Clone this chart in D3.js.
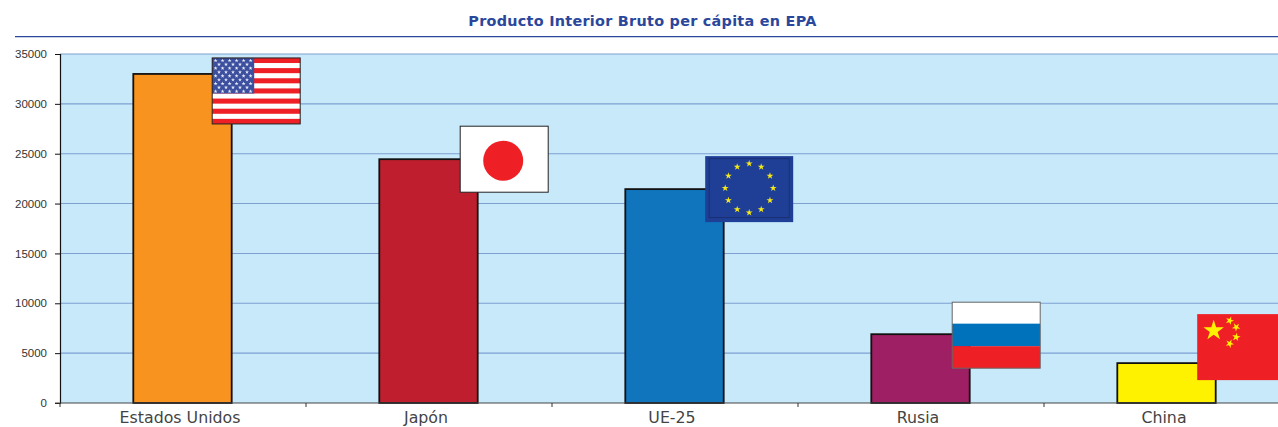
<!DOCTYPE html>
<html lang="es">
<head>
<meta charset="utf-8">
<title>Producto Interior Bruto per cápita en EPA</title>
<script src="https://cdn.jsdelivr.net/npm/d3@7"></script>
<style>
  html, body { margin: 0; padding: 0; background: #fff; overflow: hidden; }
  svg { display: block; }
</style>
</head>
<body>
<svg id="chart"></svg>
<script>
"use strict";

// Data
const categories = ["Estados Unidos", "Japón", "UE-25", "Rusia", "China"];
const gdpPerCapita = [33000, 24450, 21450, 6900, 4000];
const yTicks = [0, 5000, 10000, 15000, 20000, 25000, 30000, 35000];

const svgWidth = 1278, svgHeight = 427;
const plot = { left: 60, top: 54, right: 1290, bottom: 403 };

const barColors = ["#f7931e", "#be1e2d", "#1075bd", "#9e1f63", "#fff200"];
const flagW = 88, flagH = 66;
// how far each flag sticks up above the top of its bar, and its nudge to the right
const flagRise = [16, 33, 33, 32, 49];
const flagNudge = [0, 2, 1, 2, 1];
const flagRed = "#ef2025";

const svg = d3.select("#chart")
  .attr("width", svgWidth)
  .attr("height", svgHeight);

const xScale = d3.scaleBand()
  .domain(categories)
  .range([plot.left, plot.right])
  .paddingInner(0.6)
  .paddingOuter(0.3);

const yScale = d3.scaleLinear()
  .domain([0, 35000])
  .range([plot.bottom, plot.top]);

// Title and the rule below it
svg.append("text")
  .attr("x", 642.5)
  .attr("y", 25.5)
  .attr("text-anchor", "middle")
  .attr("font-family", "'DejaVu Sans', sans-serif")
  .attr("font-weight", "bold")
  .attr("font-size", 14.4)
  .attr("letter-spacing", 0.27)
  .attr("fill", "#2a479b")
  .text("Producto Interior Bruto per cápita en EPA");

svg.append("line")
  .attr("x1", 15).attr("x2", svgWidth)
  .attr("y1", 36.7).attr("y2", 36.7)
  .attr("stroke", "#2a479b")
  .attr("stroke-width", 1.2);

// Plot background
svg.append("rect")
  .attr("x", plot.left)
  .attr("y", plot.top)
  .attr("width", plot.right - plot.left)
  .attr("height", plot.bottom - plot.top)
  .attr("fill", "#c7e9fa");

// Gridlines
svg.append("g")
  .selectAll("line")
  .data(yTicks.filter(d => d > 0))
  .enter()
  .append("line")
  .attr("x1", plot.left)
  .attr("x2", plot.right)
  .attr("y1", d => yScale(d))
  .attr("y2", d => yScale(d))
  .attr("stroke", "#7f9fd1")
  .attr("stroke-width", 1.1);

// Bars
svg.append("g")
  .attr("transform", "translate(-0.5,0)")
  .selectAll("rect")
  .data(categories)
  .enter()
  .append("rect")
  .attr("x", d => xScale(d))
  .attr("y", (d, i) => yScale(gdpPerCapita[i]))
  .attr("width", xScale.bandwidth())
  .attr("height", (d, i) => plot.bottom - yScale(gdpPerCapita[i]))
  .attr("fill", (d, i) => barColors[i])
  .attr("stroke", "#111")
  .attr("stroke-width", 1.8);

// Axes
const yAxis = d3.axisLeft(yScale)
  .tickValues(yTicks)
  .tickFormat(d => String(d))
  .tickSize(5)
  .tickPadding(8);

const yAxisG = svg.append("g")
  .attr("transform", `translate(${plot.left},0)`)
  .call(yAxis);
yAxisG.select(".domain").attr("stroke", "#111").attr("stroke-width", 1.2);
yAxisG.selectAll(".tick line").attr("stroke", "#111");
yAxisG.selectAll("text")
  .attr("font-family", "'Liberation Sans', Arial, sans-serif")
  .attr("font-size", 11.5)
  .attr("fill", "#333");

const xAxis = d3.axisBottom(xScale)
  .tickSize(0)
  .tickPadding(9);

const xAxisG = svg.append("g")
  .attr("transform", `translate(-3,${plot.bottom})`)
  .call(xAxis);
xAxisG.select(".domain").remove();
xAxisG.selectAll("text")
  .attr("font-family", "'DejaVu Sans', sans-serif")
  .attr("font-size", 15.8)
  .attr("fill", "#444");

// baseline from the y tick on, with tick marks on the category edges
svg.append("line")
  .attr("x1", plot.left - 5).attr("x2", plot.right)
  .attr("y1", plot.bottom).attr("y2", plot.bottom)
  .attr("stroke", "#444")
  .attr("stroke-width", 1.1);

svg.append("g")
  .selectAll("line")
  .data(categories)
  .enter()
  .append("line")
  .attr("x1", d => xScale(d) - xScale.step() * 0.3)
  .attr("x2", d => xScale(d) - xScale.step() * 0.3)
  .attr("y1", plot.bottom)
  .attr("y2", plot.bottom + 4)
  .attr("stroke", "#333");

// Flags, hung off the top right corner of each bar
function star(g, x, y, size, fill, angle) {
  g.append("path")
    .attr("d", d3.symbol(d3.symbolStar, size)())
    .attr("transform", `translate(${x},${y}) rotate(${angle || 0})`)
    .attr("fill", fill);
}

function frame(g, color) {
  g.append("rect")
    .attr("width", flagW)
    .attr("height", flagH)
    .attr("fill", "none")
    .attr("stroke", color)
    .attr("stroke-width", 1);
}

function flagUS(g) {
  g.append("rect").attr("width", flagW).attr("height", flagH).attr("fill", "#fff");
  d3.range(0, 13, 2).forEach(i => {
    g.append("rect")
      .attr("y", i * flagH / 13)
      .attr("width", flagW)
      .attr("height", flagH / 13)
      .attr("fill", flagRed);
  });
  const cantonW = 42, cantonH = flagH * 7 / 13;
  g.append("rect").attr("width", cantonW).attr("height", cantonH).attr("fill", "#3c4f9f");
  d3.range(9).forEach(row => {
    const odd = row % 2 === 1;
    d3.range(odd ? 5 : 6).forEach(col => {
      star(g, (odd ? 6.8 : 3.4) + col * 7, 2.6 + row * 3.85, 5, "#e8edf8");
    });
  });
  frame(g, "#222");
}

function flagJapan(g) {
  g.append("rect").attr("width", flagW).attr("height", flagH).attr("fill", "#fff");
  g.append("circle")
    .attr("cx", flagW / 2 - 1)
    .attr("cy", flagH / 2 + 1.5)
    .attr("r", 20)
    .attr("fill", flagRed);
  frame(g, "#222");
}

function flagEU(g) {
  g.append("rect").attr("width", flagW).attr("height", flagH).attr("fill", "#1f3f97");
  g.append("rect")
    .attr("x", 4).attr("y", 2.5)
    .attr("width", flagW - 8)
    .attr("height", flagH - 7)
    .attr("fill", "none")
    .attr("stroke", "#1b2f70")
    .attr("stroke-width", 1);
  d3.range(12).forEach(i => {
    const a = i * Math.PI / 6;
    star(g, flagW / 2 + Math.sin(a) * 24, 32 - Math.cos(a) * 24.5, 15, "#f4e71a");
  });
}

function flagRussia(g) {
  g.append("rect").attr("width", flagW).attr("height", 21.5).attr("fill", "#fff");
  g.append("rect").attr("y", 21.5).attr("width", flagW).attr("height", 22.5).attr("fill", "#0071bb");
  g.append("rect").attr("y", 44).attr("width", flagW).attr("height", 22).attr("fill", flagRed);
  frame(g, "#666");
}

function flagChina(g) {
  g.append("rect").attr("width", flagW).attr("height", flagH).attr("fill", flagRed);
  star(g, 16.5, 16.5, 130, "#fff200");
  star(g, 32.5, 6.5, 22, "#fff200", 20);
  star(g, 39, 13, 22, "#fff200", 40);
  star(g, 39, 23, 22, "#fff200", 10);
  star(g, 32.5, 29.5, 22, "#fff200", 25);
}

const flagDrawers = [flagUS, flagJapan, flagEU, flagRussia, flagChina];

categories.forEach((c, i) => {
  const g = svg.append("g")
    .attr("transform", `translate(${xScale(c) + xScale.bandwidth() - 20 + flagNudge[i]},${yScale(gdpPerCapita[i]) - flagRise[i]})`);
  flagDrawers[i](g);
});
</script>
</body>
</html>
